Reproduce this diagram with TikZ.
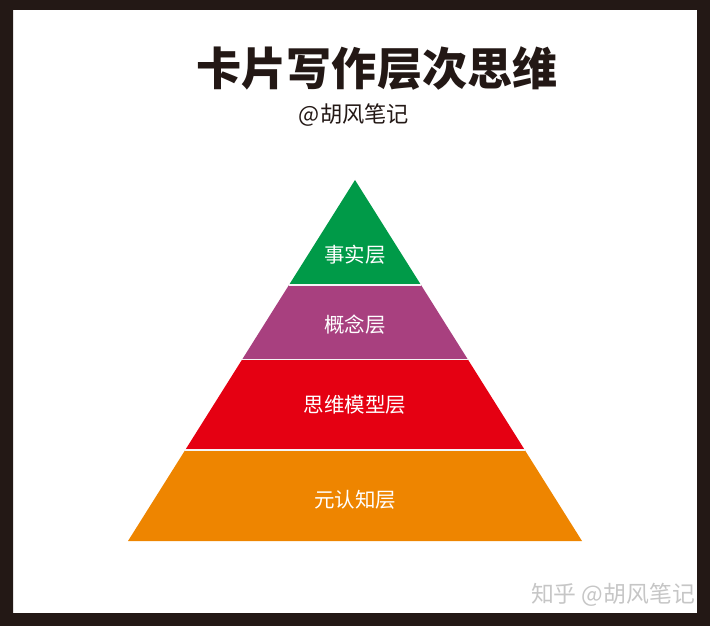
\documentclass[tikz,border=0pt]{standalone}
\usepackage{fontspec}
\usepackage{tikz}
\usetikzlibrary{calc}
\newfontfamily\cjk{Noto Sans CJK SC}
\definecolor{frame}{HTML}{231815}
\definecolor{factgreen}{HTML}{009A48}
\definecolor{conceptpurple}{HTML}{A8407F}
\definecolor{modelred}{HTML}{E50012}
\definecolor{metaorange}{HTML}{EE8500}

\begin{document}
\begin{tikzpicture}[x=0.03cm, y=-0.03cm,
    layer/.style={font=\cjk\fontsize{17.5}{20}\selectfont, text=white},
    sep/.style={draw=white!92!gray, line width=0.9pt}
]
    \useasboundingbox (0,0) rectangle (710,626);
    % frame
    \fill[frame, even odd rule] (0,0) rectangle (710,626) (13,10) rectangle (697,613);

    % title
    \node[font=\cjk\bfseries\fontsize{38.5}{42}\selectfont, text=frame] (title) at (377,68) {卡片写作层次思维};
    \node[font=\cjk\fontsize{19}{22}\selectfont, text=frame] (author) at (354,115) {@胡风笔记};

    % pyramid
    \coordinate (apex) at (355,180);
    \coordinate (bl) at (128,541);
    \coordinate (br) at (582,541);
    \coordinate (l1) at ($(apex)!0.2909!(bl)$);
    \coordinate (r1) at ($(apex)!0.2909!(br)$);
    \coordinate (l2) at ($(apex)!0.4972!(bl)$);
    \coordinate (r2) at ($(apex)!0.4972!(br)$);
    \coordinate (l3) at ($(apex)!0.7479!(bl)$);
    \coordinate (r3) at ($(apex)!0.7479!(br)$);

    \fill[factgreen] (apex) -- (r1) -- (l1) -- cycle;
    \fill[conceptpurple] (l1) -- (r1) -- (r2) -- (l2) -- cycle;
    \fill[modelred] (l2) -- (r2) -- (r3) -- (l3) -- cycle;
    \fill[metaorange] (l3) -- (r3) -- (br) -- (bl) -- cycle;
    \draw[sep] (l1) -- (r1);
    \draw[sep] (l2) -- (r2);
    \draw[sep] (l3) -- (r3);

    \node[layer] (fact) at (355,255) {事实层};
    \node[layer] (concept) at (355,325) {概念层};
    \node[layer] (model) at (355,405) {思维模型层};
    \node[layer] (meta) at (355,500) {元认知层};

    % watermark
    \node[font=\cjk\fontsize{19.5}{22}\selectfont, text=gray!45] (mark) at (613,595) {知乎 @胡风笔记};
\end{tikzpicture}
\end{document}
